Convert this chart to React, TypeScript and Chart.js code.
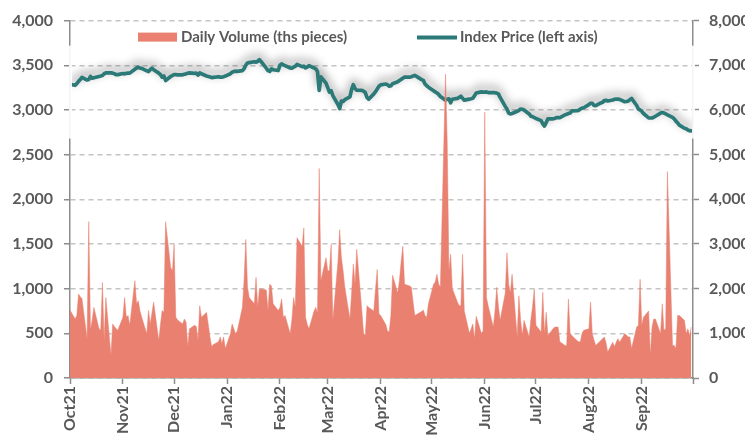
import React, { useEffect, useRef } from 'react';
import { Chart, registerables } from 'chart.js';

Chart.register(...registerables);

// Month tick labels and the calendar months they stand for
const MONTH_LABELS = ['Oct21', 'Nov21', 'Dec21', 'Jan22', 'Feb22', 'Mar22', 'Apr22', 'May22', 'Jun22', 'Jul22', 'Aug22', 'Sep22'];
const MONTH_KEYS = ['2021-10', '2021-11', '2021-12', '2022-01', '2022-02', '2022-03', '2022-04', '2022-05', '2022-06', '2022-07', '2022-08', '2022-09'];

// Daily volume (ths pieces), one value per weekday of each month (right axis)
const volOct21 = [1520, 1320, 1400, 1880, 1820, 1780, 880, 3500, 1070, 1300, 1580, 1100, 1070, 2140, 840, 1800, 510, 1210, 1150, 1100, 1070];
const volNov21 = [1360, 1800, 1360, 1400, 1180, 2180, 1660, 1730, 1500, 1360, 990, 1510, 1210, 1450, 1700, 840, 1200, 1510, 1470, 3500, 2470, 2400];
const volDec21 = [2990, 1360, 1300, 1210, 1320, 1250, 700, 1100, 1180, 1150, 840, 1620, 1360, 1470, 1200, 920, 700, 750, 810, 920, 770, 920, 660];
const volJan22 = [990, 1210, 1100, 990, 1050, 1580, 2200, 3100, 2030, 1800, 1660, 2250, 1580, 2000, 1990, 1970, 1510, 2100, 2060, 1660, 1510];
const volFeb22 = [1580, 1770, 1360, 1400, 990, 1300, 1800, 1580, 3140, 2950, 3360, 1360, 1200, 1100, 1500, 1580, 1450, 4690, 2180, 2690];
const volMar22 = [2400, 2400, 2990, 1290, 2600, 3320, 2700, 2400, 2030, 1320, 1900, 2550, 2100, 2880, 1500, 1000, 950, 1620, 1580, 1500, 2000, 2430, 1440];
const volApr22 = [1400, 1200, 1050, 1030, 1400, 2300, 1900, 2180, 2600, 2950, 2100, 2060, 2030, 1700, 1400, 1420, 1490, 1520, 1400, 1360, 1660];
const volMay22 = [2100, 2150, 2320, 2100, 2030, 6800, 5280, 2400, 2770, 2000, 1700, 1620, 1620, 2770, 1500, 1000, 1100, 1210, 880, 1380, 1000, 1050];
const volJun22 = [5950, 1800, 1620, 1140, 1500, 2030, 1600, 1290, 1900, 2800, 2100, 1900, 2320, 920, 1840, 1300, 950, 1290, 920, 1300, 1600, 1990];
const volJul22 = [1180, 1030, 1920, 990, 1470, 950, 1100, 1140, 1140, 1140, 810, 730, 730, 1770, 1000, 950, 840, 810, 810, 1000, 1070];
const volAug22 = [1100, 1700, 990, 850, 730, 840, 880, 920, 800, 580, 800, 700, 800, 880, 800, 990, 960, 920, 920, 660, 1140, 1180, 2210];
const volSep22 = [1180, 1360, 1500, 510, 1140, 1320, 1320, 990, 1660, 1070, 1100, 4620, 730, 730, 660, 1400, 1400, 1290, 990, 1100, 950, 1140];

// Index price (left axis), one value per weekday of each month
const pxOct21 = [3287, 3276, 3295, 3320, 3340, 3365, 3335, 3340, 3375, 3355, 3360, 3375, 3380, 3386, 3405, 3415, 3415, 3412, 3405, 3395, 3395];
const pxNov21 = [3408, 3404, 3410, 3412, 3412, 3455, 3470, 3478, 3470, 3465, 3438, 3430, 3450, 3467, 3450, 3412, 3395, 3368, 3380, 3330, 3375, 3385];
const pxDec21 = [3397, 3395, 3393, 3393, 3400, 3404, 3410, 3415, 3410, 3412, 3390, 3415, 3405, 3380, 3375, 3370, 3362, 3365, 3372, 3368, 3368, 3372, 3379];
const pxJan22 = [3405, 3423, 3430, 3434, 3432, 3440, 3462, 3500, 3526, 3530, 3540, 3535, 3545, 3562, 3540, 3467, 3440, 3432, 3460, 3450, 3441];
const pxFeb22 = [3500, 3515, 3505, 3496, 3470, 3467, 3480, 3489, 3510, 3485, 3490, 3470, 3480, 3496, 3470, 3460, 3430, 3220, 3370, 3300];
const pxMar22 = [3250, 3200, 3215, 3160, 3060, 3015, 3100, 3095, 3115, 3147, 3230, 3283, 3240, 3221, 3220, 3210, 3195, 3140, 3120, 3180, 3205, 3235, 3265];
const pxApr22 = [3280, 3290, 3283, 3265, 3270, 3294, 3315, 3330, 3342, 3355, 3368, 3368, 3372, 3380, 3386, 3375, 3340, 3331, 3290, 3270, 3255];
const pxMay22 = [3215, 3202, 3190, 3173, 3150, 3110, 3120, 3125, 3081, 3120, 3129, 3140, 3154, 3130, 3110, 3121, 3125, 3130, 3160, 3190, 3202, 3200];
const pxJun22 = [3200, 3202, 3195, 3195, 3192, 3188, 3180, 3140, 3040, 3010, 2965, 2955, 2960, 2985, 2995, 3010, 3008, 3000, 2955, 2930, 2925, 2915];
const pxJul22 = [2905, 2880, 2845, 2820, 2860, 2900, 2901, 2905, 2915, 2915, 2915, 2945, 2952, 2960, 2965, 2990, 2992, 2995, 3010, 3020, 3024];
const pxAug22 = [3060, 3075, 3075, 3050, 3048, 3078, 3085, 3105, 3108, 3100, 3112, 3120, 3121, 3121, 3118, 3092, 3095, 3099, 3115, 3129, 3050, 3010, 3000];
const pxSep22 = [2985, 2960, 2912, 2910, 2910, 2918, 2930, 2965, 2972, 2965, 2955, 2945, 2916, 2900, 2875, 2855, 2830, 2795, 2790, 2775, 2768, 2765];

const VOLUME_BY_MONTH = [volOct21, volNov21, volDec21, volJan22, volFeb22, volMar22, volApr22, volMay22, volJun22, volJul22, volAug22, volSep22];
const PRICE_BY_MONTH = [pxOct21, pxNov21, pxDec21, pxJan22, pxFeb22, pxMar22, pxApr22, pxMay22, pxJun22, pxJul22, pxAug22, pxSep22];

const LEFT_TICKS = [0, 500, 1000, 1500, 2000, 2500, 3000, 3500, 4000];
const RIGHT_TICKS = [0, 1000, 2000, 3000, 4000, 5000, 6000, 7000, 8000];

const VOL_LABEL = 'Daily Volume (ths pieces)';
const PRICE_LABEL = 'Index Price (left axis)';

const VOL_COLOR = '#E98070';
const LINE_COLOR = '#2C7A78';
const TEXT_COLOR = '#595959';
const AXIS_COLOR = '#8C8C8C';
const GRID_COLOR = '#C4C4C4';
const FONT = 'Lato';

const DAY = 86400000;
const BASE = Date.UTC(2021, 9, 1);

function weekdayOffsets(key: string): number[] {
  const [y, m] = key.split('-').map(Number);
  const out: number[] = [];
  for (let d = 1; d <= 31; d++) {
    const dt = new Date(Date.UTC(y, m - 1, d));
    if (dt.getUTCMonth() !== m - 1) break;
    const dow = dt.getUTCDay();
    if (dow !== 0 && dow !== 6) out.push((dt.getTime() - BASE) / DAY);
  }
  return out;
}

function monthStart(key: string): number {
  const [y, m] = key.split('-').map(Number);
  return (Date.UTC(y, m - 1, 1) - BASE) / DAY;
}

function buildPoints(byMonth: number[][]) {
  const pts: { x: number; y: number }[] = [];
  MONTH_KEYS.forEach((k, i) => {
    const days = weekdayOffsets(k);
    byMonth[i].forEach((v, j) => {
      if (j < days.length) pts.push({ x: days[j], y: v });
    });
  });
  return pts;
}

const fmt = (v: number) => String(Math.round(v)).replace(/\B(?=(\d{3})+(?!\d))/g, ',');

const legendPlugin = {
  id: 'customLegend',
  afterDraw(chart: any) {
    const { ctx, chartArea } = chart;
    const y = chartArea.top + 16;
    ctx.save();
    ctx.font = `bold 15px ${FONT}`;
    ctx.textBaseline = 'middle';
    ctx.textAlign = 'left';
    const x1 = chartArea.left + 68;
    ctx.fillStyle = VOL_COLOR;
    ctx.fillRect(x1, y - 4, 39, 9);
    ctx.fillStyle = TEXT_COLOR;
    ctx.fillText(chart.data.datasets[0].label, x1 + 43, y + 1);
    const x2 = chartArea.left + 347;
    ctx.strokeStyle = LINE_COLOR;
    ctx.lineWidth = 4;
    ctx.beginPath();
    ctx.moveTo(x2, y + 1);
    ctx.lineTo(x2 + 40, y + 1);
    ctx.stroke();
    ctx.fillStyle = TEXT_COLOR;
    ctx.fillText(chart.data.datasets[1].label, x2 + 43, y + 1);
    ctx.restore();
  },
};

// faint white bands over the axis lines next to the price line (as in the source image)
const axisBandPlugin = {
  id: 'axisBands',
  afterDraw(chart: any) {
    const { ctx, chartArea, scales } = chart;
    const yTop = scales.y.getPixelForValue(3720);
    const yBot = scales.y.getPixelForValue(2680);
    ctx.save();
    ctx.fillStyle = 'rgba(255,255,255,0.9)';
    ctx.fillRect(chartArea.left - 1, yTop, 3, yBot - yTop);
    ctx.fillRect(chartArea.right - 1, yTop, 3, yBot - yTop);
    ctx.restore();
  },
};

const shadowPlugin = {
  id: 'lineShadow',
  beforeDatasetDraw(chart: any, args: any) {
    if (args.index !== 1) return;
    const ctx = chart.ctx;
    ctx.save();
    ctx.shadowColor = 'rgba(0,0,0,0.45)';
    ctx.shadowBlur = 10;
    ctx.shadowOffsetX = 0;
    ctx.shadowOffsetY = -4;
  },
  afterDatasetDraw(chart: any, args: any) {
    if (args.index !== 1) return;
    chart.ctx.restore();
  },
};

const CANVAS_W = 752;
const CANVAS_H = 438;

export default function App() {
  const ref = useRef<HTMLCanvasElement>(null);

  useEffect(() => {
    if (!ref.current) return;
    const starts = MONTH_KEYS.map(monthStart);
    const tickDays = [...starts, 365];
    const axisFont = { family: FONT, size: 16, weight: 'bold' as const };
    const chart = new Chart(ref.current, {
      type: 'line',
      data: {
        datasets: [
          {
            label: VOL_LABEL,
            data: buildPoints(VOLUME_BY_MONTH),
            yAxisID: 'y1',
            backgroundColor: VOL_COLOR,
            borderColor: VOL_COLOR,
            borderWidth: 0.5,
            fill: 'origin',
            pointRadius: 0,
            tension: 0,
            order: 0,
          },
          {
            label: PRICE_LABEL,
            data: buildPoints(PRICE_BY_MONTH),
            yAxisID: 'y',
            borderColor: LINE_COLOR,
            backgroundColor: LINE_COLOR,
            borderWidth: 3.7,
            fill: false,
            pointRadius: 0,
            tension: 0,
            borderJoinStyle: 'round',
            borderCapStyle: 'round',
            order: 1,
          },
        ],
      },
      options: {
        responsive: false,
        animation: false,
        layout: { padding: { left: 0, right: 0, top: 8, bottom: 0 } },
        plugins: { legend: { display: false }, tooltip: { enabled: false } },
        scales: {
          x: {
            type: 'linear',
            min: 0,
            max: 365,
            afterBuildTicks: (axis: any) => {
              axis.ticks = tickDays.map((v) => ({ value: v }));
            },
            afterFit: (axis: any) => {
              axis.height = 60;
              axis.paddingLeft = 0;
              axis.paddingRight = 0;
            },
            ticks: {
              autoSkip: false,
              maxRotation: 90,
              minRotation: 90,
              padding: 2,
              color: TEXT_COLOR,
              font: axisFont,
              callback: (v: any) => {
                const i = starts.indexOf(Number(v));
                return i >= 0 ? MONTH_LABELS[i] : '';
              },
            },
            grid: { drawOnChartArea: false, drawTicks: true, tickLength: 6, tickColor: AXIS_COLOR, tickWidth: 1.5 },
            border: { display: true, color: AXIS_COLOR, width: 1.5 },
          },
          y: {
            position: 'left',
            min: 0,
            max: 4000,
            afterBuildTicks: (axis: any) => {
              axis.ticks = LEFT_TICKS.map((v) => ({ value: v }));
            },
            afterFit: (axis: any) => {
              axis.width = 70;
            },
            ticks: {
              padding: 11,
              color: TEXT_COLOR,
              font: axisFont,
              callback: (v: any) => fmt(Number(v)),
            },
            grid: { color: GRID_COLOR, lineWidth: 1.5, tickLength: 6, tickColor: AXIS_COLOR, tickWidth: 1.5 },
            border: { display: true, color: AXIS_COLOR, width: 1.5, dash: [5, 4] },
          },
          y1: {
            position: 'right',
            min: 0,
            max: 8000,
            afterBuildTicks: (axis: any) => {
              axis.ticks = RIGHT_TICKS.map((v) => ({ value: v }));
            },
            afterFit: (axis: any) => {
              axis.width = CANVAS_W - 693;
            },
            ticks: {
              padding: 10,
              color: TEXT_COLOR,
              font: axisFont,
              callback: (v: any) => fmt(Number(v)),
            },
            grid: { drawOnChartArea: false, tickLength: 6, tickColor: AXIS_COLOR, tickWidth: 1.5 },
            border: { display: true, color: AXIS_COLOR, width: 1.5 },
          },
        },
      },
      plugins: [shadowPlugin, axisBandPlugin, legendPlugin],
    } as any);
    return () => chart.destroy();
  }, []);

  return (
    <div style={{ position: 'fixed', left: 0, top: 0, width: 745, height: 438, overflow: 'hidden', background: '#fff' }}>
      <canvas ref={ref} width={CANVAS_W} height={CANVAS_H} style={{ width: CANVAS_W, height: CANVAS_H, display: 'block' }} />
    </div>
  );
}
